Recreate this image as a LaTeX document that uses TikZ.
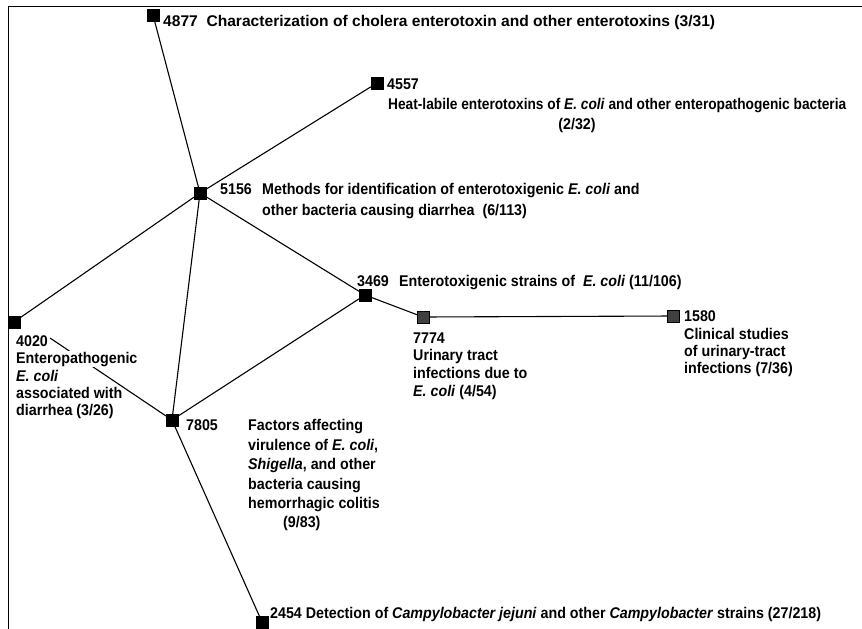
\documentclass[tikz,border=0pt]{standalone}
\usepackage{fontspec}
\usepackage{graphicx}
\setmainfont{Liberation Sans}[FakeStretch=0.92]
\begin{document}
\begin{tikzpicture}[x=1pt,y=-1pt,
  sq/.style={draw=black,fill=black,minimum size=12pt,inner sep=0pt,outer sep=0pt},
  sqd/.style={sq,fill=black!75},
  lbl/.style={font=\fontsize{15.5}{18}\selectfont\bfseries,inner sep=0pt,anchor=base west},
  edge/.style={line width=1.1pt}]
\useasboundingbox (0,0) rectangle (862,629);
\draw[line width=1pt] (8,629) -- (8,6) -- (862,6);
% nodes
\node[sq] (n4877) at (153,15) {};
\node[sq] (n4557) at (377,83) {};
\node[sq] (n5156) at (200,193) {};
\node[sq] (n3469) at (365,295) {};
\node[sqd] (n7774) at (423,317) {};
\node[sqd] (n1580) at (673,316) {};
\node[sq] (n4020) at (14,322) {};
\node[sq] (n7805) at (172,420) {};
\node[sq] (n2454) at (262,622) {};
\coordinate (c4020) at (50,338);
% edges
\draw[edge] (n4877) -- (n5156);
\draw[edge] (n4557) -- (n5156);
\draw[edge] (n5156) -- (n4020);
\draw[edge] (n5156) -- (n7805);
\draw[edge] (n5156) -- (n3469);
\draw[edge] (n3469) -- (n7805);
\draw[edge] (n3469) -- (n7774);
\draw[edge] (n7774) -- (n1580);
\draw[edge] (c4020) -- (n7805);
\draw[edge] (n7805) -- (n2454);
% labels
\node[lbl] (t4877) at (163,26) {\resizebox{552pt}{\height}{4877\ \ Characterization of cholera enterotoxin and other enterotoxins (3/31)}};
\node[lbl] (t4557a) at (387,89) {4557};
\node[lbl] (t4557b) at (388,109) {\resizebox{458pt}{\height}{Heat-labile enterotoxins of \textit{E. coli} and other enteropathogenic bacteria}};
\node[lbl,anchor=base] (t4557c) at (577,129) {(2/32)};
\node[lbl] (t5156a) at (220,194) {5156};
\node[lbl] (t5156b) at (262,194) {Methods for identification of enterotoxigenic \textit{E. coli} and};
\node[lbl] (t5156c) at (262,215) {other bacteria causing diarrhea\ \ (6/113)};
\node[lbl] (t3469a) at (357,286) {3469};
\node[lbl] (t3469b) at (399,286) {Enterotoxigenic strains of\ \ \textit{E. coli} (11/106)};
\node[lbl] (t7774a) at (413,343) {7774};
\node[lbl] (t7774b) at (413,360) {Urinary tract};
\node[lbl] (t7774c) at (413,378) {infections due to};
\node[lbl] (t7774d) at (413,396) {\textit{E. coli} (4/54)};
\node[lbl] (t1580a) at (684,321) {1580};
\node[lbl] (t1580b) at (684,339) {Clinical studies};
\node[lbl] (t1580c) at (684,356) {of urinary-tract};
\node[lbl] (t1580d) at (684,373) {infections (7/36)};
\node[lbl] (t4020a) at (16,346) {4020};
\node[lbl,fill=white,inner ysep=1pt] (t4020b) at (16,363) {Enteropathogenic};
\node[lbl] (t4020c) at (16,381) {\textit{E. coli}};
\node[lbl] (t4020d) at (16,398) {associated with};
\node[lbl] (t4020e) at (16,415) {diarrhea (3/26)};
\node[lbl] (t7805a) at (186,430) {7805};
\node[lbl] (t7805b) at (248,430) {Factors affecting};
\node[lbl] (t7805c) at (248,450) {virulence of \textit{E. coli},};
\node[lbl] (t7805d) at (248,469) {\textit{Shigella}, and other};
\node[lbl] (t7805e) at (248,489) {bacteria causing};
\node[lbl] (t7805f) at (248,508) {hemorrhagic colitis};
\node[lbl] (t7805g) at (283,527) {(9/83)};
\node[lbl] (t2454) at (270,618) {2454 Detection of \textit{Campylobacter jejuni} and other \textit{Campylobacter} strains (27/218)};
\end{tikzpicture}
\end{document}
